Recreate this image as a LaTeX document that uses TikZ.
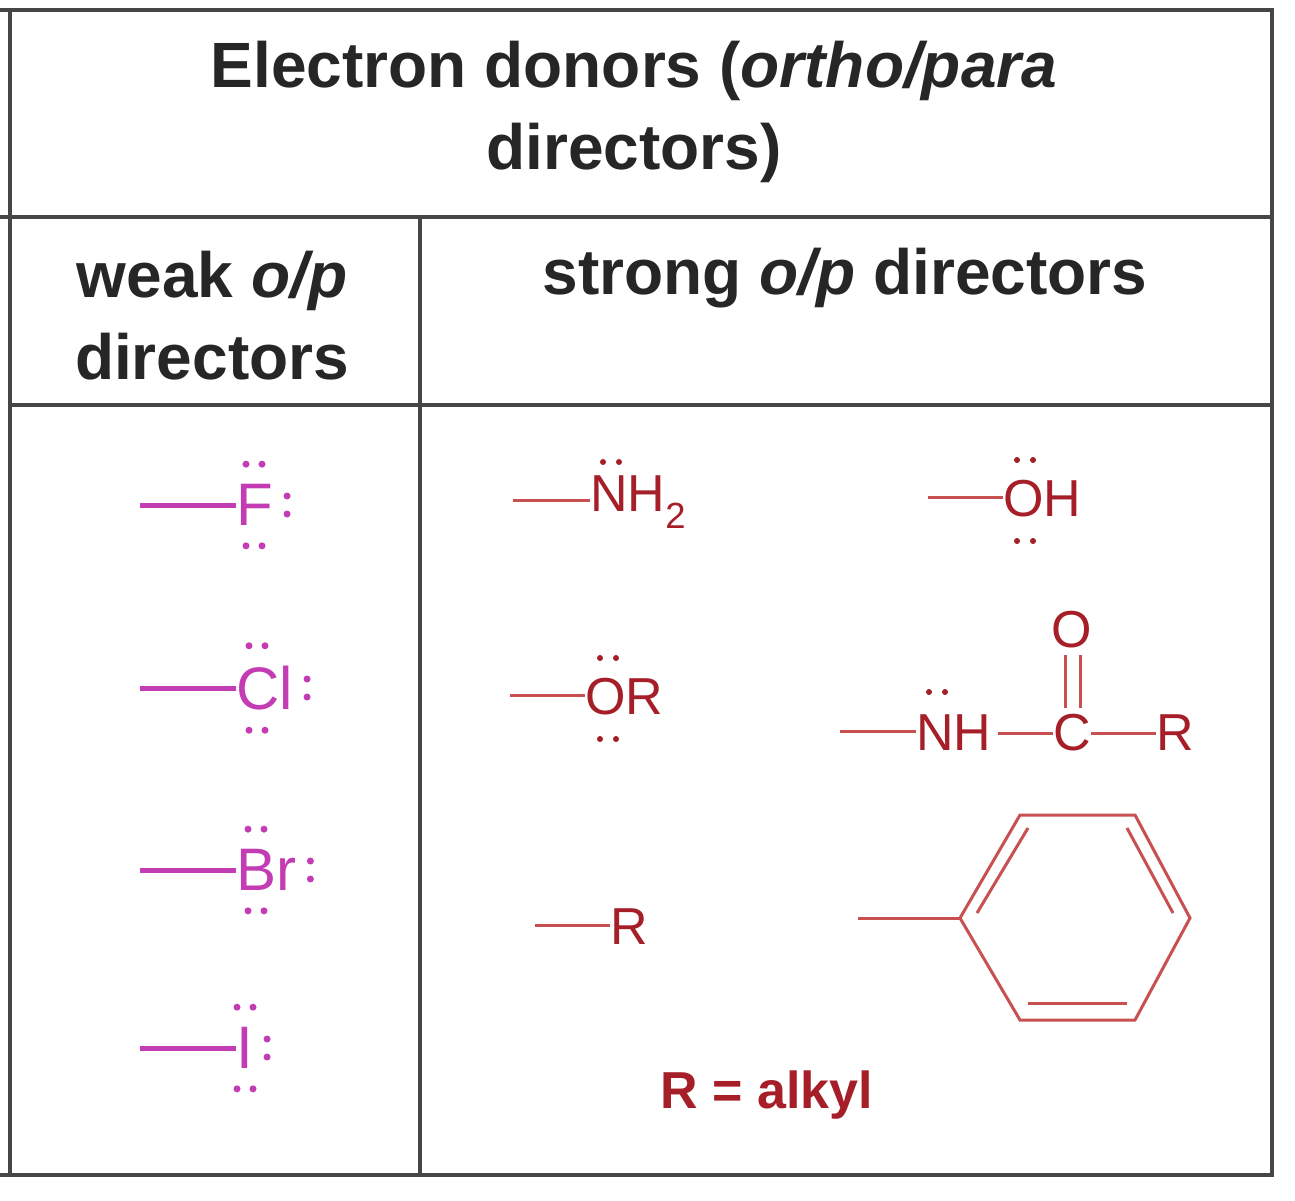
\documentclass[tikz,border=0pt]{standalone}
\usepackage{fontspec}
\setmainfont{Liberation Sans}
\definecolor{mag}{RGB}{196,60,180}
\definecolor{dred}{RGB}{165,30,40}
\definecolor{lred}{RGB}{200,80,80}
\definecolor{grid}{RGB}{70,70,70}
\begin{document}
\begin{tikzpicture}[x=1pt,y=-1pt,
  gl/.style={draw=grid,line width=4pt},
  hd/.style={font=\fontsize{64}{82}\selectfont\bfseries,align=center,text=black!85},
  hal/.style={font=\fontsize{60}{60}\selectfont,text=mag,inner sep=0pt},
  chm/.style={font=\fontsize{52}{60}\selectfont,text=dred,inner sep=0pt},
  mb/.style={draw=mag,line width=5pt},
  rb/.style={draw=lred,line width=3pt},
  md/.style={fill=mag},
  rd/.style={fill=dred}]
\useasboundingbox (0,0) rectangle (1295,1200);
\fill[white] (0,0) rectangle (1295,1200);
% grid
\draw[gl] (0,10) -- (1272,10) -- (1272,1175) -- (0,1175);
\draw[gl] (10,10) -- (10,1175);
\draw[gl] (0,217) -- (1272,217);
\draw[gl] (10,405) -- (1272,405);
\draw[gl] (420,217) -- (420,1175);
% headers
\node[hd] (h1) at (634,112) {Electron donors (\textit{ortho/para}\\directors)};
\node[hd] (h2) at (212,316) {weak \textit{o/p}\\directors};
\node[hd] (h3) at (845,278) {strong \textit{o/p} directors};
% halogens
\foreach \t/\y/\n/\w in {F/505/f/18,Cl/688/cl/21,Br/870/br/20,I/1048/i/9}{
  \node[hal,anchor=west] (\n) at (236,\y) {\t};
  \coordinate (\n b) at (140,\y);
  \draw[mb] (\n b) -- (\n b -| \n.west);
  \fill[md] (\n.north west)+(\w-8,-20) circle (3.5) (\n.north west)+(\w+8,-20) circle (3.5);
  \fill[md] (\n.south west)+(\w-8,20) circle (3.5) (\n.south west)+(\w+8,20) circle (3.5);
  \fill[md] (\n.east)+(14,-9) circle (3.5) (\n.east)+(14,9) circle (3.5);
}
% NH2
\node[chm,anchor=west] (nh2) at (590,502) {NH\textsubscript{2}};
\coordinate (nh2b) at (513,500);
\draw[rb] (nh2b) -- (nh2b -| nh2.west);
\fill[rd] (603,462) circle (3) (619,462) circle (3);
% OH
\node[chm,anchor=west] (oh) at (1003,499) {OH};
\coordinate (ohb) at (928,497);
\draw[rb] (ohb) -- (ohb -| oh.west);
\fill[rd] (1017,460) circle (3) (1033,460) circle (3) (1017,541) circle (3) (1033,541) circle (3);
% OR
\node[chm,anchor=west] (or) at (585,697) {OR};
\coordinate (orb) at (510,695);
\draw[rb] (orb) -- (orb -| or.west);
\fill[rd] (600,658) circle (3) (616,658) circle (3) (600,739) circle (3) (616,739) circle (3);
% amide
\node[chm,anchor=west] (nh) at (916,733) {NH};
\coordinate (nhb) at (840,731);
\draw[rb] (nhb) -- (nhb -| nh.west);
\fill[rd] (929,692) circle (3) (945,692) circle (3);
\node[chm] (c) at (1072,733) {C};
\node[chm] (o) at (1072,630) {O};
\node[chm] (r2) at (1175,733) {R};
\draw[rb] ([xshift=6pt]nh.east) -- (c.west);
\draw[rb] (c.east) -- (r2.west);
\draw[rb] (1065,655) -- (1065,708) (1080,655) -- (1080,708);
% R
\node[chm,anchor=west] (r1) at (610,927) {R};
\coordinate (r1b) at (535,925);
\draw[rb] (r1b) -- (r1b -| r1.west);
% benzene
\coordinate (b1) at (960,918); \coordinate (b2) at (1020,815);
\coordinate (b3) at (1135,815); \coordinate (b4) at (1190,918);
\coordinate (b5) at (1135,1020); \coordinate (b6) at (1020,1020);
\coordinate (bb) at (858,918);
\draw[rb] (bb) -- (b1);
\draw[rb] (b1)--(b2)--(b3)--(b4)--(b5)--(b6)--cycle;
\draw[rb] (977,913) -- (1028,828);
\draw[rb] (1127,828) -- (1173,913);
\draw[rb] (1127,1003) -- (1028,1003);
% note
\node[chm,font=\fontsize{52}{60}\selectfont\bfseries] (note) at (767,1095) {R = alkyl};
\end{tikzpicture}
\end{document}
